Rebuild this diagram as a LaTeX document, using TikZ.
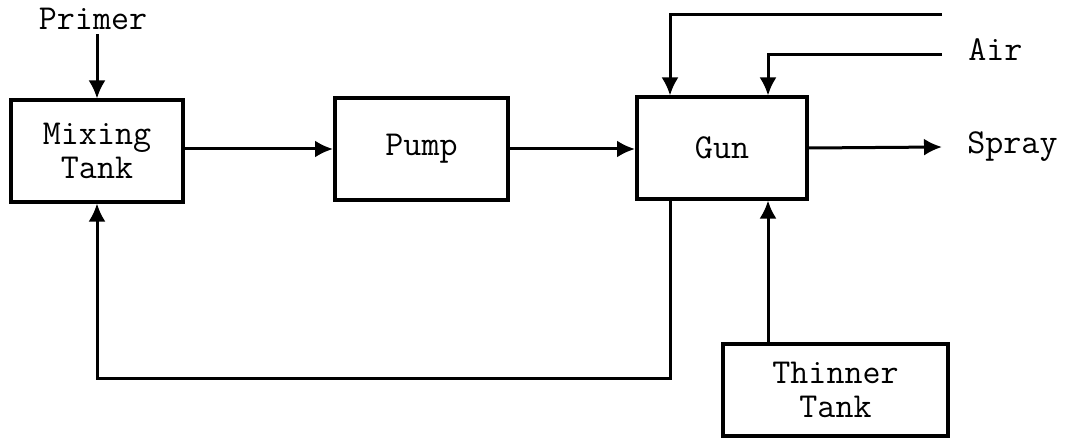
\documentclass[tikz,border=0pt]{standalone}
\usepackage{fontspec}
\usetikzlibrary{arrows.meta,calc}
\tikzset{
  blk/.style={draw, line width=2pt, rectangle, inner sep=0pt, font=\ttfamily\fontsize{17.5}{17}\selectfont, align=center},
  lbl/.style={font=\ttfamily\fontsize{17.5}{17}\selectfont, inner sep=0pt},
  flow/.style={line width=1.5pt, -{Latex[length=9pt,width=8.5pt]}},
  wire/.style={line width=1.5pt}
}
\begin{document}
\begin{tikzpicture}[x=0.5pt,y=-0.5pt]
\useasboundingbox (0,0) rectangle (1068,438);
% process blocks
\node[blk, minimum width=86pt, minimum height=50.5pt] (mix) at (97,151) {Mixing\\Tank};
\node[blk, minimum width=86.5pt, minimum height=50.5pt] (pump) at (421.5,149) {Pump};
\node[blk, minimum width=85pt, minimum height=50.5pt] (gun) at (722,148) {Gun};
\node[blk, minimum width=112.5pt, minimum height=46pt] (thin) at (835.5,390) {Thinner\\Tank};
% labels
\node[lbl] (primer) at (93,19) {Primer};
\node[lbl, anchor=west] (air) at (968,50) {Air};
\node[lbl, anchor=west] (spray) at (967,147) {Spray};
% free ends and bends
\coordinate (top) at (942,15);
\coordinate (airend) at (942,55);
\coordinate (g1) at (670,0);
\coordinate (g2) at (768,0);
\coordinate (sprayend) at (942,147);
\coordinate (rb) at (97,378);
% connectors
\draw[flow] (primer.south -| mix.north) ++(0,4) -- (mix.north);
\draw[flow] (mix.east |- pump) -- (pump.west);
\draw[flow] (pump.east) -- (gun.west |- pump.east);
\draw[flow] (top) -| (g1 |- gun.north);
\draw[flow] (airend) -| (g2 |- gun.north);
\draw[flow] (gun.east) -- (sprayend);
\draw[flow] (g1 |- gun.south) |- (rb) -- (mix.south);
\draw[flow] (g2 |- thin.north) -- (g2 |- gun.south);
\end{tikzpicture}
\end{document}
